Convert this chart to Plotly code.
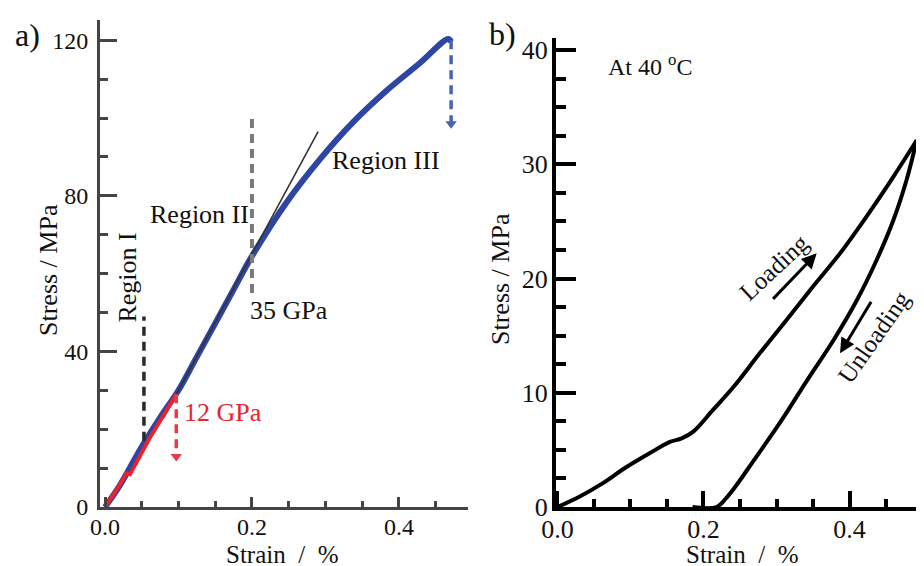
import plotly.graph_objects as go

# ---------------- Panel a data ----------------
a_strain = [0, 0.02, 0.05, 0.075, 0.1, 0.125, 0.15, 0.175, 0.2, 0.247, 0.293, 0.338, 0.383, 0.429, 0.467, 0.471]
a_stress = [0, 5.5, 15.5, 23, 30, 38.6, 47.2, 55.9, 64.5, 78.3, 89.5, 99, 107, 114.2, 120.3, 119.6]
a_red_strain = [0, 0.015, 0.029, 0.034, 0.06, 0.097]
a_red_stress = [0, 4.2, 8.6, 8.4, 17.5, 29]
a_tan_strain = [0.08, 0.29]
a_tan_stress = [23, 96.5]
a_reg1_strain = [0.053, 0.053]
a_reg1_stress = [17, 49]
a_reg2_strain = [0.2, 0.2]
a_reg2_stress = [55, 101]
a_red_arrow_strain = [0.097, 0.097]
a_red_arrow_stress = [29, 13]
a_blue_arrow_strain = [0.471, 0.471]
a_blue_arrow_stress = [120, 98.5]

# ---------------- Panel b data ----------------
b_load_strain = [0, 0.03, 0.06, 0.0945, 0.126, 0.154, 0.170, 0.186, 0.213, 0.241, 0.277, 0.314, 0.350, 0.387, 0.423, 0.460, 0.492]
b_load_stress = [0, 0.9, 2.0, 3.5, 4.7, 5.7, 6.0, 6.6, 8.5, 10.5, 13.45, 16.4, 19.3, 22.2, 25.4, 28.9, 32.1]
b_unload_strain = [0.492, 0.478, 0.460, 0.437, 0.410, 0.378, 0.341, 0.305, 0.268, 0.245, 0.230, 0.218, 0.185]
b_unload_stress = [32.1, 28.6, 25.1, 21.6, 18.1, 14.6, 11.0, 7.4, 4.0, 1.9, 0.7, 0, 0]

FONT = "Liberation Serif, Times New Roman, serif"
OFF = 8                      # page body margin of the html page
W, H = 924 - OFF, 566 - OFF  # figure size so that page == 924x566


def fx(p):
    return (p - OFF) / W


def fy(p):
    return 1 - (p - OFF) / H


fig = go.Figure()


def line(x, y, color, width, dash=None, xa="x", ya="y", shape="linear"):
    fig.add_trace(go.Scatter(x=x, y=y, xaxis=xa, yaxis=ya, mode="lines",
                             line=dict(color=color, width=width, dash=dash, shape=shape),
                             hoverinfo="skip"))


def dashed_arrow(x, y, color, width, xa="x", ya="y"):
    fig.add_trace(go.Scatter(x=x, y=y, xaxis=xa, yaxis=ya, mode="lines",
                             line=dict(color=color, width=width, dash="9px,6px"),
                             hoverinfo="skip"))
    fig.add_trace(go.Scatter(x=[x[-1]], y=[y[-1]], xaxis=xa, yaxis=ya, mode="markers",
                             marker=dict(symbol="triangle-down", size=10, color=color,
                                         line=dict(width=0)),
                             hoverinfo="skip"))


# panel a
line(a_strain, a_stress, "#2e45a3", 6, shape="spline")
line(a_tan_strain, a_tan_stress, "#333333", 1.6)
line(a_red_strain, a_red_stress, "#e8232d", 4)
line(a_reg1_strain, a_reg1_stress, "#2a2a2a", 3.5, dash="9px,6px")
line(a_reg2_strain, a_reg2_stress, "#7a7a7a", 4, dash="9px,6px")
dashed_arrow(a_red_arrow_strain, a_red_arrow_stress, "#ee3844", 3.5)
dashed_arrow(a_blue_arrow_strain, a_blue_arrow_stress, "#4a62b2", 3.5)

# panel b
line(b_load_strain, b_load_stress, "#000000", 4, xa="x2", ya="y2", shape="spline")
line(b_unload_strain, b_unload_stress, "#000000", 4, xa="x2", ya="y2", shape="spline")


def axis_common(color, lw, size):
    return dict(showline=True, linecolor=color, linewidth=lw, showgrid=False, zeroline=False,
                ticks="inside", tickcolor=color, tickwidth=lw, automargin=False,
                tickfont=dict(family=FONT, size=size, color="#111111"))


fig.update_layout(
    template="none",
    width=W, height=H, margin=dict(l=0, r=0, t=0, b=0, pad=0),
    paper_bgcolor="white", plot_bgcolor="white", showlegend=False,
    xaxis=dict(domain=[fx(100), fx(468)], range=[-0.0068, 0.494], anchor="y",
               tick0=0, dtick=0.2, ticklen=10, tickformat=".1f", ticklabelstandoff=-4,
               minor=dict(dtick=0.05, ticklen=6, ticks="inside", tickcolor="#444444", tickwidth=3),
               **axis_common("#444444", 3, 24)),
    yaxis=dict(domain=[fy(507), fy(20)], range=[0, 125.2], anchor="x",
               tick0=0, dtick=40, ticklen=17, ticklabelstandoff=4,
               minor=dict(dtick=10, ticklen=8, ticks="inside", tickcolor="#444444", tickwidth=3),
               **axis_common("#444444", 3, 24)),
    xaxis2=dict(domain=[fx(556), 1.0], range=[-0.002, 0.502], anchor="y2",
                tick0=0, dtick=0.2, ticklen=16, tickformat=".1f", ticklabelstandoff=-4,
                minor=dict(dtick=0.05, ticklen=8, ticks="inside", tickcolor="#000000", tickwidth=4),
                **axis_common("#000000", 4, 26)),
    yaxis2=dict(domain=[fy(507), fy(38)], range=[0, 41.05], anchor="x2",
                tick0=0, dtick=10, ticklen=20, ticklabelstandoff=-1,
                minor=dict(dtick=2.5, ticklen=10, ticks="inside", tickcolor="#000000", tickwidth=4),
                **axis_common("#000000", 4, 26)),
)


def txt(text, x, y, size=26, color="#111111", angle=0, xref="x", yref="y", xanchor="center", yanchor="middle"):
    fig.add_annotation(text=text, x=x, y=y, xref=xref, yref=yref, showarrow=False,
                       textangle=angle, xanchor=xanchor, yanchor=yanchor,
                       font=dict(family=FONT, size=size, color=color))


# panel labels & axis titles (paper coords)
txt("a)", fx(27), fy(35), size=32, xref="paper", yref="paper")
txt("b)", fx(503), fy(34), size=32, xref="paper", yref="paper")
txt("Stress / MPa", fx(48), fy(270), size=26, angle=-90, xref="paper", yref="paper")
txt("Stress / MPa", fx(500), fy(279), size=26, angle=-90, xref="paper", yref="paper")
txt("Strain\u00a0 /\u00a0 %", fx(282), fy(554), size=25, xref="paper", yref="paper")
txt("Strain\u00a0 /\u00a0 %", fx(742), fy(554), size=25, xref="paper", yref="paper")

# panel a text
txt("Region I", 0.030, 59, angle=-90)
txt("Region II", 0.128, 75.3)
txt("Region III", 0.383, 89.2)
txt("35 GPa", 0.25, 50.4)
txt("12 GPa", 0.16, 24.2, color="#e8232d")

# panel b text
txt("At 40 <sup>o</sup>C", 0.066, 38.7, size=24, xref="x2", yref="y2", xanchor="left")
txt("Loading", 0.296, 21.0, size=25, angle=-43, xref="x2", yref="y2")
txt("Unloading", 0.434, 14.9, size=25, angle=-55, xref="x2", yref="y2")
fig.add_annotation(x=0.355, y=22.2, xref="x2", yref="y2", ax=-45, ay=47, showarrow=True,
                   arrowhead=2, arrowsize=1, arrowwidth=3, arrowcolor="#000000", text="")
fig.add_annotation(x=0.387, y=13.45, xref="x2", yref="y2", ax=32, ay=-53, showarrow=True,
                   arrowhead=2, arrowsize=1, arrowwidth=3, arrowcolor="#000000", text="")

fig.write_html("out.html")
